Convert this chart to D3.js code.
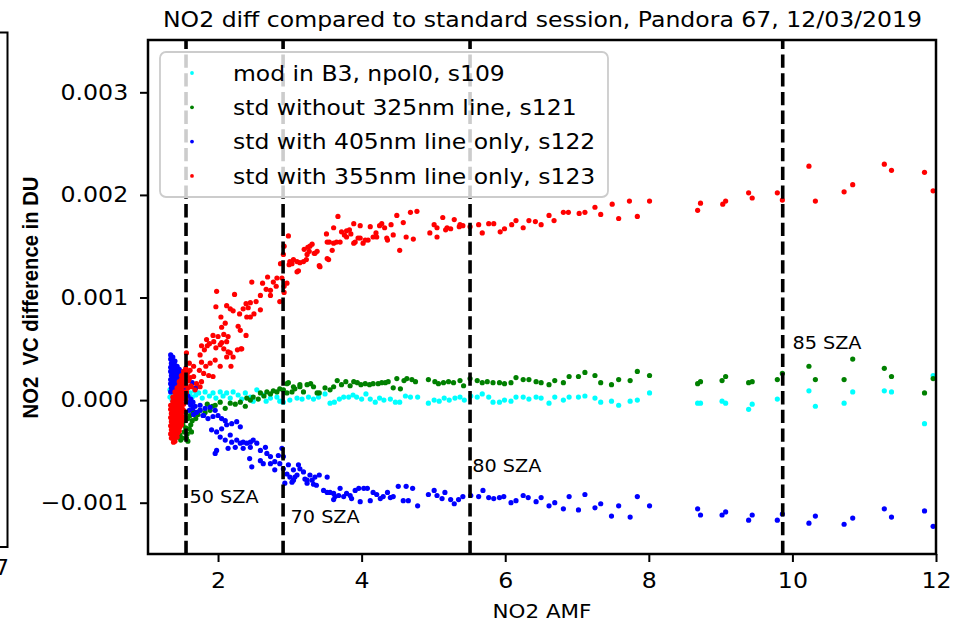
<!DOCTYPE html>
<html>
<head>
<meta charset="utf-8">
<script src="https://cdn.jsdelivr.net/npm/d3@7"></script>
<style>
  body { margin: 0; background: #fff; }
  svg { display: block; font-family: "DejaVu Sans", sans-serif; }
</style>
</head>
<body>
<svg id="chart" width="959" height="622"></svg>
<script>
// NO2 AMF vs VC difference (DU)
var s109 = [ // cyan: mod in B3, npol0
  [1.33,0.0001],[1.36,0.00007],[1.39,0.00004],[1.41,0.00008],[1.44,0.00005],[1.47,0.0001],[1.5,0.00006],[1.53,0.00003],[1.55,0.00008],[1.58,0.00004],[1.61,0.00007],[1.64,0.00003],[1.67,0.00009],[1.69,0.00005],[1.36,0],[1.41,-0.00002],[1.47,0.00014],[1.33,0.00003],
  [1.73,0.00007],[1.82,0.00008],[1.93,0.00007],[2.03,0.00008],[2.12,0.00007],[2.21,0.00008],[2.28,0.00005],[2.38,0.00007],[2.45,0.00003],[2.54,0.0001],[2.63,0.00005],[2.73,0.00002],[2.82,0.00003],[1.78,0.00002],[1.88,0.00004],[1.97,0.00002],[2.07,0.00004],[2.17,0.00002],[2.33,0.00001],[2.49,-0.00001],[2.67,-0.00001],[2.86,-0.00001],
  [2.91,-0.00002],[3.0,0],[3.1,0.00002],[3.17,0.00001],[3.26,0.00003],[3.33,0.00001],[3.4,0.00003],[3.49,0.00006],[3.56,-0.00003],[3.62,-0.00002],[3.69,0.00001],[3.75,0.00003],[3.82,0.00003],[3.88,0.00005],[3.93,0.00003],[4.0,0.00001],[4.06,0.00006],[4.12,0.00001],[4.19,-0.00002],[4.25,0.00002],[4.31,0],[4.4,0.00001],[4.47,-0.00002],[4.53,-0.00002],[4.61,0.00004],[4.68,0.00003],[4.78,0.00003],[4.93,-0.00003],[5.01,0],[5.08,-0.00001],[5.15,0.00002],[5.22,0],[5.3,0.00002],[5.37,0.00003],[5.43,0],[5.52,0.00004],[5.61,0.00003],
  [5.68,0.00006],[5.77,0.00003],[5.83,-0.00002],[5.92,-0.00002],[5.99,0],[6.08,-0.00001],[6.15,0.00003],[6.25,0.00003],[6.33,0.00001],[6.43,0.00003],[6.5,0.00002],[6.61,-0.00003],[6.69,0.00003],[6.81,0],[6.89,0.00003],[7.02,0.00003],[7.11,0.00004],[7.25,0.00002],[7.33,-0.00002],[7.48,-0.00001],[7.58,-0.00005],[7.74,-0.00001],[7.84,0],[8.01,0.00007],[8.68,-0.00003],[8.72,-0.00003],[9.02,-0.00001],[9.07,-0.00003],[9.39,-0.00009],[9.44,-0.00004],[9.79,0.00001],[10.23,0.00009],[10.32,-0.00006],[10.72,-0.00003],[10.84,0.00008],[11.28,0.00009],[11.38,0.00008],[11.84,-0.00023],[11.96,0.00024]
];
var s121 = [ // green: std without 325nm line
  [1.44,-0.00029],[1.47,-0.00034],[1.5,-0.00037],[1.53,-0.00031],[1.51,-0.00024],[1.54,-0.0002],[1.55,-0.00027],[1.58,-0.00018],[1.61,-0.00015],[1.64,-0.0002],[1.67,-0.00012],[1.69,-0.00018],[1.72,-0.00014],[1.75,-0.0001],[1.48,-0.00039],[1.44,-0.00036],[1.55,-0.00012],[1.65,-0.00011],
  [1.57,-0.00033],[1.6,-0.00028],[1.62,-0.00024],[1.58,-0.0004],[1.56,-0.00037],[1.63,-0.00031],
  [1.82,-0.00012],[1.89,-0.0001],[1.92,-0.00006],[1.96,-0.00005],[2.03,-0.00002],[2.1,-0.00008],[2.17,-0.00003],[2.24,-0.00004],[2.31,-0.00002],[2.38,-0.00006],[2.4,0.00002],[2.45,0],[2.49,0.00003],[2.56,0.00001],[2.59,0.00007],[2.64,0.00004],[2.68,0.00008],[2.73,0.00006],[2.77,0.00009],[2.82,0.00008],[2.86,0.00011],[1.85,-0.00004],
  [2.96,0.00016],[3.05,0.00013],[3.14,0.00015],[2.98,0.00017],[2.91,0.0001],[2.96,0.00007],[3.03,0.00008],[3.07,0.00011],[3.14,0.00013],[3.19,0.00008],[3.24,0.00015],[3.29,0.00016],[3.33,0.00013],[3.38,0.00007],[3.41,0.00007],[3.49,0.00012],[3.56,0.0001],[3.61,0.00013],[3.66,0.00019],[3.72,0.00015],[3.78,0.00018],[3.84,0.00014],[3.89,0.00018],[3.94,0.00017],[3.99,0.00015],[4.05,0.00016],[4.11,0.00015],[4.16,0.00016],[4.23,0.00016],[4.28,0.00017],[4.33,0.00017],[4.37,0.00018],[4.44,0.00012],[4.49,0.00021],[4.54,0.00011],[4.59,0.00019],[4.63,0.00021],[4.7,0.0002],[4.75,0.00018],[4.93,0.0002],[5.02,0.00018],[5.07,0.00016],[5.14,0.00017],[5.21,0.00018],[5.28,0.00017],[5.37,0.00019],[5.42,0.00014],[5.51,0.00021],[5.61,0.00019],
  [5.68,0.00017],[5.75,0.00018],[5.83,0.00017],[5.92,0.00017],[5.99,0.00016],[6.08,0.00017],[6.15,0.00022],[6.25,0.0002],[6.33,0.0002],[6.43,0.00018],[6.5,0.00017],[6.61,0.00015],[6.69,0.00019],[6.81,0.00017],[6.89,0.00023],[7.02,0.00023],[7.11,0.00027],[7.25,0.00024],[7.33,0.00017],[7.48,0.00015],[7.58,0.0002],[7.74,0.00019],[7.84,0.00028],[8.01,0.00024],[8.68,0.00016],[8.72,0.00018],[9.02,0.00019],[9.07,0.00023],[9.39,0.00017],[9.44,0.00018],[9.79,0.0002],[9.86,0.00026],[10.23,0.00033],[10.32,0.0002],[10.72,0.0002],[10.84,0.0004],[11.28,0.00031],[11.38,0.00023],[11.84,0.00007],[11.96,0.00021]
];
var s122 = [ // blue: std with 405nm line only
  [1.34,0.00044],[1.34,0.0004],[1.35,0.00036],[1.34,0.00032],[1.34,0.00028],[1.35,0.00024],[1.34,0.0002],[1.34,0.00016],[1.35,0.00012],[1.34,0.00008],
  [1.37,0.00042],[1.37,0.00038],[1.38,0.00034],[1.37,0.0003],[1.37,0.00026],[1.38,0.00022],[1.37,0.00018],[1.37,0.00014],[1.38,0.0001],
  [1.4,0.00038],[1.4,0.00034],[1.41,0.0003],[1.4,0.00026],[1.4,0.00022],[1.41,0.00018],[1.4,0.00014],[1.4,0.0001],
  [1.43,0.00033],[1.43,0.00029],[1.44,0.00025],[1.43,0.00021],[1.43,0.00017],[1.44,0.00013],
  [1.46,0.0003],[1.46,0.00026],[1.47,0.00022],[1.46,0.00018],[1.49,0.00026],[1.49,0.00022],[1.5,0.00018],[1.49,0.00012],
  [1.52,0.0002],[1.52,0.00014],[1.53,0.00008],[1.55,0.00012],[1.56,0.00006],[1.55,0],
  [1.58,0.00004],[1.59,-0.00002],[1.62,0.00001],[1.62,-0.00005],[1.65,-0.00002],[1.65,-0.00008],[1.68,-0.00006],
  [1.64,0.00017],[1.69,0.00012],[1.6,-0.0001],[1.7,-0.00012],[1.75,-0.0001],[1.8,-0.00015],[1.66,-0.00014],
  [1.75,-0.00005],[1.82,-0.00008],[1.89,-0.00007],[1.96,-0.0001],[1.79,-0.00015],[1.86,-0.00018],[1.93,-0.00016],[2.0,-0.00015],[2.05,-0.00018],[2.1,-0.0002],[1.91,-0.00029],[1.98,-0.00031],[2.05,-0.00028],[2.12,-0.00024],[2.19,-0.00023],[2.26,-0.00021],[2.31,-0.00026],[2.03,-0.00036],[2.1,-0.00039],[2.17,-0.00034],[2.19,-0.00041],[2.26,-0.00039],[2.31,-0.00042],[2.35,-0.00041],[2.4,-0.00042],[2.45,-0.00041],[2.49,-0.00039],[2.54,-0.00042],[1.98,-0.00049],[1.96,-0.00052],[2.14,-0.00047],[2.24,-0.00046],[2.35,-0.00047],[2.45,-0.00046],[2.59,-0.00049],[2.66,-0.00046],[2.68,-0.00052],[2.73,-0.00055],[2.79,-0.0006],[2.84,-0.00054],[2.44,-0.00057],[2.47,-0.00065],[2.59,-0.00059],[2.63,-0.00062],[2.73,-0.00062],[2.79,-0.00068],[2.86,-0.00062],[2.91,-0.00067],[2.96,-0.00072],[3.0,-0.00075],[3.05,-0.00078],[3.1,-0.00073],[3.14,-0.00067],[3.19,-0.0007],[3.24,-0.00078],[2.93,-0.00081],
  [2.89,-0.00047],[2.91,-0.00055],[2.98,-0.00063],[3.05,-0.00068],[3.07,-0.00075],[3.12,-0.00063],[3.21,-0.00077],[3.24,-0.00081],[3.28,-0.00073],[3.31,-0.00078],[3.33,-0.00082],[3.35,-0.00075],[3.37,-0.00083],[3.41,-0.00073],[3.52,-0.00075],[3.03,-0.0008],[3.47,-0.00088],[3.52,-0.0009],[3.56,-0.0009],[3.61,-0.00091],[3.63,-0.00094],[3.61,-0.00097],[3.68,-0.00093],[3.7,-0.00086],[3.75,-0.00094],[3.79,-0.00091],[3.84,-0.00093],[3.86,-0.00096],[3.91,-0.00088],[3.96,-0.00086],[3.98,-0.00099],[4.03,-0.00086],[4.08,-0.00086],[4.12,-0.00098],[4.16,-0.0009],[4.21,-0.00092],[4.26,-0.00096],[4.3,-0.00094],[4.36,-0.0009],[4.4,-0.00095],[4.44,-0.00094],[4.51,-0.00084],[4.58,-0.00098],[4.62,-0.00084],[4.65,-0.00098],[4.71,-0.00086],[4.78,-0.00103],[4.93,-0.00092],[5.01,-0.00088],[5.05,-0.00093],[5.12,-0.00096],[5.16,-0.0009],[5.24,-0.00097],[5.29,-0.00101],[5.35,-0.00097],[5.41,-0.00094],[5.52,-0.00093],[5.63,-0.00094],
  [5.69,-0.00088],[5.77,-0.00095],[5.84,-0.00096],[5.92,-0.00095],[5.98,-0.00094],[6.08,-0.001],[6.15,-0.00098],[6.25,-0.00093],[6.32,-0.00095],[6.43,-0.00099],[6.5,-0.00095],[6.61,-0.00103],[6.69,-0.001],[6.81,-0.00106],[6.89,-0.00094],[7.02,-0.00107],[7.11,-0.00092],[7.25,-0.00105],[7.33,-0.00101],[7.48,-0.00113],[7.58,-0.00103],[7.74,-0.00114],[7.84,-0.00094],[8.01,-0.00103],[8.68,-0.00106],[8.72,-0.00112],[9.02,-0.00112],[9.07,-0.00109],[9.39,-0.00117],[9.44,-0.00112],[9.79,-0.00117],[9.86,-0.00111],[10.23,-0.0012],[10.32,-0.00113],[10.72,-0.00121],[10.84,-0.00115],[11.28,-0.00106],[11.38,-0.00114],[11.84,-0.00108],[11.96,-0.00123]
];
var s123 = [ // red: std with 355nm line only
  [1.34,-0.00005],[1.34,-0.00009],[1.35,-0.00013],[1.34,-0.00017],[1.35,-0.00021],[1.34,-0.00025],[1.35,-0.00029],[1.34,-0.00033],[1.35,-0.00037],
  [1.37,0.00003],[1.37,-0.00001],[1.38,-0.00005],[1.37,-0.00009],[1.37,-0.00013],[1.38,-0.00017],[1.37,-0.00021],[1.37,-0.00025],[1.38,-0.00029],[1.37,-0.00033],[1.37,-0.00037],[1.38,-0.00041],
  [1.4,0.00008],[1.4,0.00004],[1.41,0],[1.4,-0.00004],[1.4,-0.00008],[1.41,-0.00012],[1.4,-0.00016],[1.4,-0.0002],[1.41,-0.00024],[1.4,-0.00028],[1.4,-0.00032],[1.41,-0.00036],[1.4,-0.0004],
  [1.43,0.00012],[1.43,0.00008],[1.44,0.00004],[1.43,0],[1.43,-0.00004],[1.44,-0.00008],[1.43,-0.00012],[1.43,-0.00016],[1.44,-0.0002],[1.43,-0.00024],[1.43,-0.00028],[1.44,-0.00032],[1.43,-0.00036],
  [1.46,0.00018],[1.46,0.00014],[1.47,0.0001],[1.46,0.00006],[1.46,0.00002],[1.47,-0.00002],[1.46,-0.00006],[1.46,-0.0001],[1.47,-0.00014],[1.46,-0.00018],[1.46,-0.00022],[1.47,-0.00026],[1.46,-0.0003],
  [1.49,0.00024],[1.49,0.0002],[1.5,0.00016],[1.49,0.00012],[1.49,0.00008],[1.5,0.00004],[1.49,0],[1.49,-0.00004],[1.5,-0.00008],[1.49,-0.00012],[1.49,-0.00016],[1.5,-0.0002],[1.49,-0.00024],
  [1.52,0.00028],[1.52,0.00024],[1.53,0.0002],[1.52,0.00014],[1.52,0.00008],[1.53,0.00002],[1.52,-0.00004],[1.52,-0.0001],[1.53,-0.00016],
  [1.55,0.00031],[1.56,0.00024],[1.55,0.00016],[1.56,0.00008],[1.55,0.00001],[1.58,0.00027],[1.59,0.00019],[1.58,0.00012],[1.61,0.00022],[1.62,0.00014],
  [1.75,0.00044],[1.81,0.00049],[1.85,0.00053],[1.94,0.00057],[1.97,0.00051],[2.03,0.00054],[2.08,0.0005],[2.14,0.00047],[2.17,0.00046],[2.21,0.00042],[2.27,0.00049],[2.32,0.0005],[2.39,0.00063],[1.77,0.00037],[1.83,0.00033],[1.89,0.00036],[1.96,0.00039],[2.03,0.00033],[2.12,0.00042],[2.18,0.00033],[1.74,0.00029],[1.8,0.00026],[1.87,0.00024],[1.93,0.00023],[1.66,0.00023],[1.7,0.00016],[1.77,0.00018],[1.63,0.00013],[1.68,0.0001],[1.61,0.00029],[1.6,0.00036],[1.66,0.00033],[1.75,0.00013],[1.56,0.00046],
  [2.98,0.0016],[2.92,0.0015],[3.0,0.00135],[2.87,0.00133],[3.1,0.00125],[2.82,0.00119],[2.77,0.00115],[2.69,0.0012],[2.62,0.00114],[2.47,0.00115],[2.73,0.00107],[2.67,0.00108],[2.81,0.00111],[2.92,0.00111],[1.98,0.00106],[2.23,0.00103],[2.59,0.00102],[2.73,0.00102],[2.86,0.00096],[2.53,0.00096],[2.45,0.00095],[2.39,0.00094],[2.42,0.0009],[2.12,0.00092],[1.97,0.00091],[2.17,0.00089],[2.21,0.00087],[2.35,0.00089],[2.59,0.00088],[2.3,0.00084],[2.5,0.00084],[2.4,0.00081],[2.45,0.00081],[2.04,0.00081],[2.1,0.00075],[2.05,0.00071],[2.28,0.00072],[2.31,0.00068],[1.93,0.00063],[2.0,0.00062],[2.08,0.00064],[2.14,0.00062],[1.84,0.00059],[1.77,0.00053],[1.88,0.00055],[2.05,0.00056],[2.12,0.00057],[2.33,0.0005],
  [2.91,0.00142],[3.05,0.00137],[2.99,0.00132],[3.1,0.00135],[3.14,0.00134],[3.12,0.00126],[3.19,0.00135],[3.23,0.00137],[3.2,0.00147],[3.25,0.00149],[3.27,0.00145],[3.31,0.00152],[3.34,0.00143],[3.38,0.00145],[3.41,0.00131],[3.51,0.00162],[3.52,0.00138],[3.55,0.00154],[3.59,0.00146],[3.61,0.00168],[3.65,0.00154],[3.67,0.00179],[3.7,0.00154],[3.72,0.00164],[3.76,0.00161],[3.79,0.00165],[3.83,0.00166],[3.85,0.00162],[3.89,0.00172],[3.91,0.00154],[3.95,0.00158],[3.98,0.0017],[4.02,0.00153],[4.05,0.00156],[4.09,0.00156],[4.12,0.00169],[4.16,0.00159],[4.2,0.00163],[4.25,0.0017],[4.28,0.00172],[4.32,0.00168],[4.36,0.00156],[4.41,0.00171],[4.44,0.00161],[4.49,0.0018],[4.53,0.00146],[4.58,0.00173],[4.62,0.00159],[4.68,0.00183],[4.72,0.00157],[4.77,0.00184],[4.95,0.00163],[5.01,0.00171],[5.05,0.00159],[5.13,0.00178],[5.17,0.00166],[5.24,0.00167],[5.29,0.00176],[5.36,0.00169],[5.41,0.0017],[5.51,0.00169],[5.63,0.00171],[2.96,0.00114],[2.92,0.00105],[2.89,0.00119],
  [5.05,0.00168],[5.19,0.00168],[5.37,0.00171],[4.35,0.00158],[4.21,0.00159],[3.98,0.00158],[3.89,0.00153],[3.79,0.00159],[3.61,0.00153],[3.52,0.00154],[3.54,0.00137],[3.42,0.0013],[3.35,0.00143],[3.28,0.0015],[3.24,0.00142],[3.03,0.00133],
  [5.68,0.00163],[5.77,0.00172],[5.84,0.00172],[5.93,0.00164],[5.99,0.00167],[6.09,0.00171],[6.15,0.00175],[6.25,0.00168],[6.33,0.00175],[6.42,0.00174],[6.5,0.00171],[6.68,0.00175],[6.61,0.0018],[6.81,0.00183],[6.88,0.00183],[7.03,0.00182],[7.11,0.00183],[7.25,0.00188],[7.33,0.00181],[7.49,0.00191],[7.58,0.00177],[7.73,0.00194],[7.84,0.00179],[8.01,0.00194],[8.68,0.00185],[8.72,0.00192],[9.03,0.00191],[9.07,0.00194],[9.39,0.00202],[9.44,0.00197],[9.79,0.00202],[9.86,0.00195],[10.23,0.00228],[10.32,0.00194],[10.72,0.00203],[10.84,0.0021],[11.28,0.0023],[11.38,0.00224],[11.84,0.00222],[11.96,0.00204]
];

var seriesData = [s109, s121, s122, s123];
var seriesNames = ["mod in B3, npol0, s109", "std without 325nm line, s121",
                   "std with 405nm line only, s122", "std with 355nm line only, s123"];
var seriesColors = ["#00ffff", "#008000", "#0000ff", "#ff0000"];

var szaAmf = [1.554, 2.906, 5.51, 9.865];
var szaText = ["50 SZA", "70 SZA", "80 SZA", "85 SZA"];
var szaTextAt = [[1.603, -0.001], [3.01, -0.0012], [5.54, -0.0007], [10.0, 0.0005]];

var xTicks = [2, 4, 6, 8, 10, 12];
var yTicks = [-0.001, 0.000, 0.001, 0.002, 0.003];

var sx = 1.1; // the picture is a bit wider than tall, text too
var plotL = 148, plotT = 40, plotR = 936, plotB = 554;

var svg = d3.select("#chart");

var x = d3.scaleLinear().domain([1.0244, 12]).range([plotL, plotR]);
var y = d3.scaleLinear().domain([-0.0015, 0.00351]).range([plotB, plotT]);

svg.append("clipPath").attr("id", "plotclip")
  .append("rect").attr("x", plotL).attr("y", plotT)
  .attr("width", plotR - plotL).attr("height", plotB - plotT);

// scatter
var pts = svg.append("g").attr("clip-path", "url(#plotclip)");
seriesData.forEach(function(data, i) {
  pts.append("g").selectAll("circle")
    .data(data)
    .enter().append("circle")
    .attr("cx", function(d) { return x(d[0]); })
    .attr("cy", function(d) { return y(d[1]); })
    .attr("r", 2.6)
    .attr("fill", seriesColors[i]);
});

// SZA lines
svg.append("g").selectAll("line")
  .data(szaAmf)
  .enter().append("line")
  .attr("x1", function(d) { return x(d); }).attr("x2", function(d) { return x(d); })
  .attr("y1", y.range()[0]).attr("y2", y.range()[1])
  .attr("stroke", "#000").attr("stroke-width", 3.6)
  .attr("stroke-dasharray", "13.3,5.4");

svg.append("g").selectAll("text")
  .data(szaText)
  .enter().append("text")
  .attr("transform", function(d, i) {
    return "translate(" + x(szaTextAt[i][0]) + "," + y(szaTextAt[i][1]) + ") scale(" + sx + ",1)";
  })
  .attr("font-size", 17.5).attr("fill", "#000")
  .text(function(d) { return d; });

// axes
var xAxis = svg.append("g")
  .attr("transform", "translate(0," + plotB + ")")
  .call(d3.axisBottom(x).tickValues(xTicks).tickFormat(d3.format("d")).tickSize(8).tickPadding(10.5));
var yAxis = svg.append("g")
  .attr("transform", "translate(" + plotL + ",0)")
  .call(d3.axisLeft(y).tickValues(yTicks).tickFormat(d3.format(".3f")).tickSize(8).tickPadding(10));

[xAxis, yAxis].forEach(function(ax) {
  ax.select(".domain").remove();
  ax.selectAll(".tick line").attr("stroke", "#000").attr("stroke-width", 2);
  ax.selectAll(".tick text")
    .attr("font-family", "DejaVu Sans").attr("font-size", 21.5).attr("fill", "#000")
    .attr("transform", "scale(" + sx + ",1)");
});

svg.append("rect")
  .attr("x", plotL).attr("y", plotT)
  .attr("width", plotR - plotL).attr("height", plotB - plotT)
  .attr("fill", "none").attr("stroke", "#000").attr("stroke-width", 2.5);

// legend
var lg = svg.append("g");
lg.append("rect")
  .attr("x", 160).attr("y", 52).attr("width", 448).attr("height", 145)
  .attr("rx", 6).attr("fill", "#fff").attr("fill-opacity", 0.8)
  .attr("stroke", "#cccccc").attr("stroke-width", 1.8);
seriesNames.forEach(function(name, i) {
  var cy = 73 + i * 34.3;
  lg.append("circle").attr("cx", 192).attr("cy", cy).attr("r", 1.9).attr("fill", seriesColors[i]);
  lg.append("text")
    .attr("transform", "translate(233," + (cy + 7.8) + ") scale(" + (sx * 0.97) + ",1)")
    .attr("font-size", 22).attr("fill", "#000")
    .text(name);
});

// titles
svg.append("text")
  .attr("x", 163).attr("y", 26.5)
  .attr("font-size", 20.5).attr("fill", "#000")
  .attr("textLength", 759).attr("lengthAdjust", "spacingAndGlyphs")
  .text("NO2 diff compared to standard session, Pandora 67, 12/03/2019");

svg.append("text")
  .attr("transform", "translate(" + ((plotL + plotR) / 2) + ",617.5) scale(" + sx + ",1)")
  .attr("text-anchor", "middle").attr("font-size", 19.5).attr("fill", "#000")
  .text("NO2 AMF");

svg.append("text")
  .attr("transform", "translate(37.5,297.5) rotate(-90)")
  .attr("text-anchor", "middle")
  .attr("font-family", "'Liberation Sans Narrow', 'Liberation Sans', sans-serif")
  .attr("font-weight", "bold").attr("font-size", 22).attr("fill", "#000")
  .attr("textLength", 242).attr("lengthAdjust", "spacingAndGlyphs")
  .style("white-space", "pre")
  .text("NO2  VC difference in DU");

// edge of the neighbouring panel, cut off on the left
svg.append("path")
  .attr("d", "M0,32.5H7.5V547H0")
  .attr("fill", "none").attr("stroke", "#000").attr("stroke-width", 2);
svg.append("text")
  .attr("x", 9).attr("y", 575).attr("text-anchor", "end")
  .attr("font-size", 21.5).attr("fill", "#000")
  .text("7");
</script>
</body>
</html>
